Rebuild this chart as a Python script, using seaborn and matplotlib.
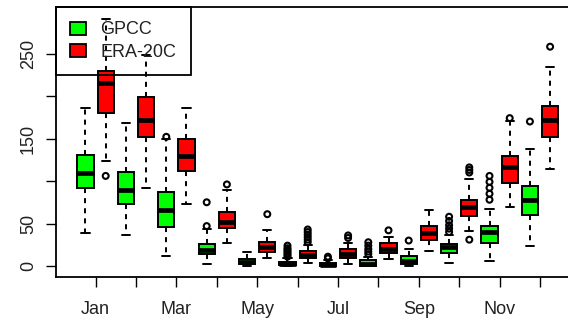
import pandas as pd
import seaborn as sns
import matplotlib.pyplot as plt
from matplotlib.patches import Patch

months = ['Jan', 'Feb', 'Mar', 'Apr', 'May', 'Jun',
          'Jul', 'Aug', 'Sep', 'Oct', 'Nov', 'Dec']
month_labels = ['Jan', '', 'Mar', '', 'May', '', 'Jul', '', 'Sep', '', 'Nov', '']
sources = ['GPCC', 'ERA-20C']
colors = {'GPCC': '#00ff00', 'ERA-20C': '#ff0000'}

# box stats (whisker ends, quartiles, median)
gpcc_lo = [39, 36.5, 12, 2, 0, 0, 0, 0, 0, 3, 6, 23.5]
gpcc_q1 = [92, 73, 46, 14, 2.5, 1, 0.5, 0.5, 2, 15, 27, 60]
gpcc_med = [109, 90, 66, 19, 5, 2.5, 1.5, 2, 6, 22, 40, 78]
gpcc_q3 = [131, 111, 87, 26, 8, 5, 3.5, 7, 12, 26, 47, 94]
gpcc_hi = [186, 168, 149, 44, 17, 9, 7, 11, 20, 36, 67, 138]
gpcc_out = [[], [], [152], [47, 75], [], [11, 13, 15, 17, 19, 21, 24],
            [9, 11], [14, 17, 20, 24, 28], [30], [40, 44, 48, 53, 58],
            [78, 85, 92, 99, 106], [170]]

era_lo = [124, 92, 73, 27.5, 9, 4, 2, 8.5, 18, 41, 69, 114]
era_q1 = [180, 152, 112, 44.5, 16, 10, 10, 15, 31, 59, 98, 152]
era_med = [215, 172, 129, 52, 22, 13, 14, 20, 39, 69, 117, 172]
era_q3 = [229, 199, 150, 64, 28.5, 18, 20, 27, 47, 78, 129, 188]
era_hi = [291, 248, 185.5, 89, 42, 25, 27, 34, 66, 102, 171, 234.5]
era_out = [[106], [], [], [96], [61], [28, 31, 34, 37, 40, 43],
           [33, 36], [42], [], [31, 110, 113, 116], [174], [258]]

series = {
    'GPCC': (-0.25, [gpcc_lo, gpcc_q1, gpcc_med, gpcc_q3, gpcc_hi], gpcc_out),
    'ERA-20C': (0.25, [era_lo, era_q1, era_med, era_q3, era_hi], era_out),
}

box_rows = []
out_rows = []
for i, m in enumerate(months):
    for src in sources:
        off, stats, outs = series[src]
        for s in stats:
            box_rows.append({'pos': i + off, 'source': src, 'precip': s[i]})
        for v in outs[i]:
            out_rows.append({'pos': i + off, 'source': src, 'precip': v})
box_df = pd.DataFrame(box_rows)
out_df = pd.DataFrame(out_rows)

sns.set_theme(style='ticks')
plt.rcParams['font.family'] = ['Liberation Sans', 'DejaVu Sans']

fig = plt.figure(figsize=(5.68, 3.22), dpi=100)
ax = fig.add_axes([56 / 568, 45 / 322, 523.6 / 568, 270 / 322])

lw = 1.4
sns.boxplot(data=box_df, x='pos', y='precip', hue='source', hue_order=sources,
            palette=colors, native_scale=True, dodge=False, saturation=1,
            width=0.8, whis=(0, 100), linecolor='black', linewidth=lw,
            medianprops={'color': 'black', 'linewidth': 3.4},
            whiskerprops={'linestyle': (0, (2.6, 2.6)), 'linewidth': lw},
            capprops={'linewidth': lw}, legend=False, ax=ax)
sns.scatterplot(data=out_df, x='pos', y='precip', marker='o', s=18,
                facecolor='none', edgecolor='black', linewidth=1.5,
                legend=False, ax=ax, zorder=5)

ax.set_xlim(-0.98, 11.98)
ax.set_ylim(-12.9, 304.7)
ax.set_xticks(range(12))
ax.set_xticklabels(month_labels)
ax.set_yticks([0, 50, 100, 150, 200, 250])
ax.set_yticklabels(['0', '50', '', '150', '', '250'], rotation=90, va='center')
ax.set_xlabel('')
ax.set_ylabel('')
ax.tick_params(axis='both', direction='out', length=7.2, width=1.0,
               labelsize=13, colors='black', labelcolor='#222222')
ax.tick_params(axis='x', pad=10)
ax.tick_params(axis='y', pad=6.5)
for sp in ax.spines.values():
    sp.set_visible(True)
    sp.set_linewidth(1.3)
    sp.set_color('black')

handles = [Patch(facecolor=colors[s], edgecolor='black', linewidth=1.3, label=s)
           for s in sources]
leg = ax.legend(handles=handles, loc='upper left', bbox_to_anchor=(0, 1),
                borderaxespad=0, fancybox=False, edgecolor='black',
                facecolor='none', framealpha=1, fontsize=13,
                handlelength=0.85, handleheight=0.75, handletextpad=0.8,
                borderpad=0.8, labelspacing=0.3)
leg.get_frame().set_linewidth(1.3)
for t in leg.get_texts():
    t.set_color('#222222')

fig.savefig('out.png', dpi=100)
